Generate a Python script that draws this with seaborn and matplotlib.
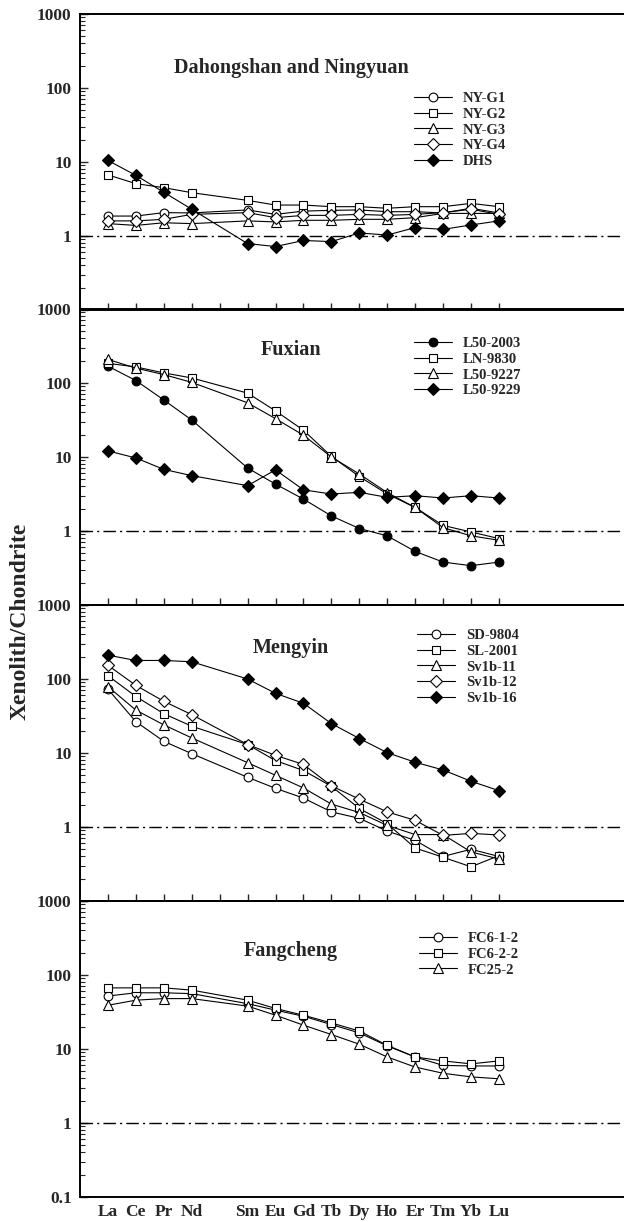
import numpy as np
import pandas as pd
import matplotlib
matplotlib.use("Agg")
import matplotlib.pyplot as plt
import seaborn as sns
from matplotlib.ticker import LogLocator, NullFormatter, FixedLocator

sns.set_theme(style="white")
plt.rcParams['font.family'] = ['Liberation Serif', 'DejaVu Serif']
plt.rcParams['font.weight'] = 'bold'

# ---- data ----
ree_axis = ["La", "Ce", "Pr", "Nd", "Pm", "Sm", "Eu", "Gd", "Tb", "Dy", "Ho", "Er", "Tm", "Yb", "Lu"]
elements = ["La", "Ce", "Pr", "Nd", "Sm", "Eu", "Gd", "Tb", "Dy", "Ho", "Er", "Tm", "Yb", "Lu"]

# Panel 1: Dahongshan and Ningyuan
ny_g1 = [1.86, 1.86, 2.07, 2.05, 2.25, 1.96, 2.17, 2.22, 2.25, 2.13, 2.13, 2.05, 2.37, 2.05]
ny_g2 = [6.7, 5.1, 4.5, 3.85, 3.03, 2.62, 2.62, 2.49, 2.49, 2.37, 2.49, 2.49, 2.76, 2.49]
ny_g3 = [1.47, 1.39, 1.51, 1.47, 1.6, 1.55, 1.63, 1.63, 1.68, 1.68, 1.77, 2.02, 2.02, 2.02]
ny_g4 = [1.6, 1.6, 1.68, 1.96, 2.07, 1.77, 1.9, 1.9, 1.96, 1.9, 1.96, 2.07, 2.3, 1.96]
dhs = [10.5, 6.6, 3.9, 2.3, 0.79, 0.72, 0.87, 0.84, 1.1, 1.03, 1.3, 1.23, 1.41, 1.6]

# Panel 2: Fuxian
l50_2003 = [169, 108, 59, 31.6, 7.1, 4.3, 2.7, 1.6, 1.08, 0.86, 0.53, 0.38, 0.34, 0.38]
ln_9830 = [184, 165, 137, 117, 73, 42, 23, 10.2, 5.45, 3.16, 2.08, 1.19, 0.97, 0.79]
l50_9227 = [208, 159, 130, 102, 54, 33, 19.7, 10.0, 5.9, 3.3, 2.08, 1.11, 0.86, 0.75]
l50_9229 = [12.1, 9.7, 6.8, 5.6, 4.1, 6.7, 3.6, 3.16, 3.33, 2.85, 3.0, 2.79, 3.0, 2.79]

# Panel 3: Mengyin
sd_9804 = [73, 26.5, 14.4, 9.8, 4.7, 3.33, 2.46, 1.6, 1.31, 0.88, 0.66, 0.40, 0.50, 0.40]
sl_2001 = [111, 58, 34, 23, 13, 7.9, 5.8, 3.55, 1.78, 1.11, 0.52, 0.39, 0.29, 0.41]
sv1b_11 = [79, 38, 24, 16, 7.4, 5.0, 3.37, 2.04, 1.57, 1.05, 0.79, 0.79, 0.46, 0.37]
sv1b_12 = [153, 82, 50, 33, 13, 9.3, 7.0, 3.6, 2.38, 1.6, 1.23, 0.77, 0.82, 0.78]
sv1b_16 = [210, 178, 178, 171, 100, 64, 47, 25, 15.7, 10.1, 7.5, 5.9, 4.15, 3.1]

# Panel 4: Fangcheng
fc6_1_2 = [52, 57.5, 57.5, 56, 41, 33.5, 27.7, 21.4, 16.5, 11.0, 7.8, 6.0, 5.9, 5.9]
fc6_2_2 = [67, 67, 67, 62.5, 45.7, 35.3, 28.6, 22.5, 17.5, 11.2, 7.8, 6.9, 6.3, 6.9]
fc25_2 = [39, 45.7, 48, 48, 38, 28.6, 21, 15.7, 11.6, 7.8, 5.7, 4.7, 4.2, 3.96]

panel_titles = ["Dahongshan and Ningyuan", "Fuxian", "Mengyin", "Fangcheng"]
panel_series = [
    [("NY-G1", ny_g1, "o", "white"), ("NY-G2", ny_g2, "s", "white"),
     ("NY-G3", ny_g3, "^", "white"), ("NY-G4", ny_g4, "D", "white"),
     ("DHS", dhs, "D", "black")],
    [("L50-2003", l50_2003, "o", "black"), ("LN-9830", ln_9830, "s", "white"),
     ("L50-9227", l50_9227, "^", "white"), ("L50-9229", l50_9229, "D", "black")],
    [("SD-9804", sd_9804, "o", "white"), ("SL-2001", sl_2001, "s", "white"),
     ("Sv1b-11", sv1b_11, "^", "white"), ("Sv1b-12", sv1b_12, "D", "white"),
     ("Sv1b-16", sv1b_16, "D", "black")],
    [("FC6-1-2", fc6_1_2, "o", "white"), ("FC6-2-2", fc6_2_2, "s", "white"),
     ("FC25-2", fc25_2, "^", "white")],
]

# ---- layout ----
W, H = 624, 1222
fig = plt.figure(figsize=(W / 100, H / 100), dpi=100)

left_px = 80
right_px = 632
tops = [14, 309, 605, 901]
ph = 296
title_y_px = [68, 350, 648, 951]
leg_top_px = [92, 337, 629, 932]
leg_x_px = [414, 414, 417, 419]

xpos = [ree_axis.index(e) + 1 for e in elements]
x_per_px = 1.0 / 27.93
xmax = (right_px - left_px) * x_per_px

for i in range(4):
    top = tops[i]
    ax = fig.add_axes([left_px / W, 1 - (top + ph) / H, (right_px - left_px) / W, ph / H])
    ax.set_facecolor("none")
    ax.set_yscale("log")
    ax.set_ylim(0.1, 1000)
    ax.set_xlim(0, xmax)

    ax.axhline(1, color="black", lw=1.0, ls=(0, (9, 3, 1.5, 3)), zorder=1)

    for name, vals, mk, fc in panel_series[i]:
        df = pd.DataFrame({"x": xpos, "y": vals})
        ms = 6.3 if mk in ("o", "s") else (6.0 if mk == "D" else 7.0)
        sns.lineplot(data=df, x="x", y="y", ax=ax, color="black", lw=0.8,
                     marker=mk, markersize=ms, markerfacecolor=fc,
                     markeredgecolor="black", markeredgewidth=0.8,
                     sort=False, label=name, zorder=3)

    ax.set_xlabel("")
    ax.set_ylabel("")

    for s in ["left", "top", "bottom"]:
        ax.spines[s].set_linewidth(1.4)
        ax.spines[s].set_color("black")
    ax.spines["right"].set_visible(False)

    # y ticks
    ax.yaxis.set_major_locator(FixedLocator([0.1, 1, 10, 100, 1000]))
    ax.yaxis.set_minor_locator(LogLocator(base=10, subs=np.arange(2, 10)))
    ax.yaxis.set_minor_formatter(NullFormatter())
    if i < 3:
        ax.set_yticklabels(["", "1", "10", "100", "1000"])
    else:
        ax.set_yticklabels(["0.1", "1", "10", "100", "1000"])
    ax.tick_params(axis="y", which="major", direction="in", length=6, width=1.0,
                   labelsize=12.5, pad=6, left=True)
    ax.tick_params(axis="y", which="minor", direction="in", length=3.5, width=0.8, left=True)
    for lab in ax.get_yticklabels():
        lab.set_fontweight("bold")

    # x ticks
    ax.set_xticks(range(1, len(ree_axis) + 1))
    if i < 3:
        ax.set_xticklabels([])
        ax.tick_params(axis="x", which="major", direction="in", length=5, width=1.0, bottom=True)
    else:
        ax.set_xticklabels([e if e != "Pm" else "" for e in ree_axis])
        ax.tick_params(axis="x", which="major", direction="in", length=0, labelsize=12.5, pad=5,
                       bottom=True)
        for lab in ax.get_xticklabels():
            lab.set_fontweight("bold")
    ax.tick_params(axis="x", which="minor", bottom=False, top=False)

    # title
    ax.text(291 / W, 1 - title_y_px[i] / H, panel_titles[i], transform=fig.transFigure,
            ha="center", va="center", fontsize=14.5, fontweight="bold")

    leg = ax.legend(loc="upper left",
                    bbox_to_anchor=(leg_x_px[i] / W, 1 - leg_top_px[i] / H),
                    bbox_transform=fig.transFigure, frameon=False,
                    prop={"weight": "bold", "size": 10.5}, handlelength=2.6,
                    handletextpad=0.75, labelspacing=0.17, borderaxespad=0, borderpad=0)
    for t in leg.get_texts():
        t.set_fontweight("bold")

fig.text(20 / W, 1 - 621 / H, "Xenolith/Chondrite", rotation=90, ha="center", va="center",
         fontsize=17, fontweight="bold")

fig.savefig("out.png", dpi=100)
